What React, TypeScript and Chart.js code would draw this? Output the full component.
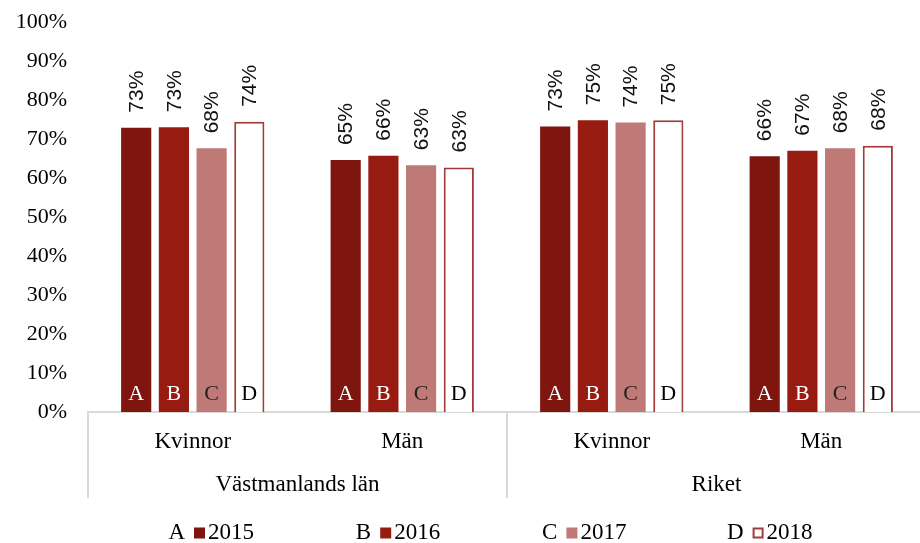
import React, { useEffect, useRef } from "react";
import { Chart, registerables } from "chart.js";

Chart.register(...registerables);

const categories = ["Kvinnor", "Män", "Kvinnor", "Män"];
const groupLabels = ["Västmanlands län", "Riket"];
const years = ["2015", "2016", "2017", "2018"];
const letters = ["A", "B", "C", "D"];
const values2015 = [72.9, 64.6, 73.2, 65.6];
const values2016 = [73.0, 65.7, 74.8, 67.0];
const values2017 = [67.6, 63.3, 74.2, 67.6];
const values2018 = [74.4, 62.7, 74.8, 68.3];
const yMin = 0;
const yMax = 100;
const yStep = 10;

const fills = ["#7e150f", "#981b12", "#bf7a78", "#ffffff"];
const borders = ["#7e150f", "#981b12", "#bf7a78", "#a33b3b"];
const letterColors = ["#ffffff", "#ffffff", "#222222", "#000000"];

const SERIF = "'Liberation Serif', 'Times New Roman', serif";
const SANS = "'Liberation Sans', Arial, sans-serif";
const GRAY = "#d9d9d9";

const overlayPlugin = {
  id: "overlay",
  afterDatasetsDraw(chart: any) {
    const ctx = chart.ctx;
    ctx.save();
    chart.data.datasets.forEach((ds: any, di: number) => {
      const meta = chart.getDatasetMeta(di);
      meta.data.forEach((bar: any, j: number) => {
        const v = ds.data[j];
        ctx.save();
        ctx.translate(bar.x + 1, bar.y - 15);
        ctx.rotate(-Math.PI / 2);
        ctx.font = `21px ${SANS}`;
        ctx.fillStyle = "#111";
        ctx.textAlign = "left";
        ctx.textBaseline = "middle";
        ctx.fillText(`${Math.round(v)}%`, 0, 0);
        ctx.restore();
        ctx.font = `22px ${SERIF}`;
        ctx.fillStyle = letterColors[di];
        ctx.textAlign = "center";
        ctx.textBaseline = "middle";
        ctx.fillText(letters[di], bar.x, 394);
      });
    });
    ctx.restore();
  },
  afterDraw(chart: any) {
    const ctx = chart.ctx;
    const xs = chart.scales.x;
    const top = chart.chartArea.bottom;
    ctx.save();
    ctx.strokeStyle = GRAY;
    ctx.lineWidth = 2;
    const n = categories.length;
    const bounds: number[] = [xs.left];
    for (let i = 2; i < n; i += 2) {
      bounds.push((xs.getPixelForValue(i - 1) + xs.getPixelForValue(i)) / 2);
    }
    bounds.push(xs.right);
    bounds.forEach((bx) => {
      ctx.beginPath();
      ctx.moveTo(bx, top);
      ctx.lineTo(bx, 498);
      ctx.stroke();
    });
    ctx.font = `23px ${SERIF}`;
    ctx.fillStyle = "#000";
    ctx.textAlign = "center";
    ctx.textBaseline = "middle";
    groupLabels.forEach((g, gi) => {
      const cx = (xs.getPixelForValue(gi * 2) + xs.getPixelForValue(gi * 2 + 1)) / 2;
      ctx.fillText(g, cx, 485);
    });
    const ly = 533;
    chart.data.datasets.forEach((ds: any, di: number) => {
      const bx = 194 + di * 186.2;
      ctx.font = `23px ${SERIF}`;
      ctx.fillStyle = "#000";
      ctx.textAlign = "right";
      ctx.textBaseline = "middle";
      ctx.fillText(letters[di], bx - 9, ly);
      const size = 11;
      if (di === 3) {
        ctx.fillStyle = "#fff";
        ctx.fillRect(bx, ly - size / 2, size, size);
        ctx.strokeStyle = borders[di];
        ctx.lineWidth = 2;
        ctx.strokeRect(bx + 1, ly - size / 2 + 1, size - 2, size - 2);
      } else {
        ctx.fillStyle = ds.backgroundColor;
        ctx.fillRect(bx, ly - size / 2, size, size);
      }
      ctx.font = `23px ${SERIF}`;
      ctx.fillStyle = "#000";
      ctx.textAlign = "left";
      ctx.fillText(ds.label, bx + 14, ly);
    });
    ctx.restore();
  },
};

export default function App() {
  const ref = useRef<HTMLCanvasElement | null>(null);
  useEffect(() => {
    document.body.style.margin = "0";
    const canvas = ref.current;
    if (!canvas) return;
    const series = [values2015, values2016, values2017, values2018];
    const chart = new Chart(canvas, {
      type: "bar",
      data: {
        labels: categories,
        datasets: series.map((vals, i) => ({
          label: years[i],
          data: vals,
          backgroundColor: fills[i],
          borderColor: borders[i],
          borderWidth: i === 3 ? 2 : 0,
          categoryPercentage: 0.72,
          barPercentage: 0.8,
        })),
      },
      options: {
        responsive: false,
        animation: false,
        devicePixelRatio: 1,
        layout: { padding: { left: 0, right: 14, top: 22, bottom: 45 } },
        plugins: {
          legend: { display: false },
          tooltip: { enabled: false },
        },
        scales: {
          x: {
            grid: { display: false, drawTicks: false },
            border: { display: true, color: GRAY, width: 2 },
            ticks: {
              padding: 16,
              color: "#000",
              font: { family: SERIF, size: 23 },
              maxRotation: 0,
              autoSkip: false,
            },
            afterFit: (s: any) => {
              s.height = 86;
              s.paddingLeft = 0;
              s.paddingRight = 0;
            },
          },
          y: {
            min: yMin,
            max: yMax,
            grid: { display: false, drawTicks: false },
            border: { display: false },
            ticks: {
              stepSize: yStep,
              padding: 21,
              color: "#000",
              font: { family: SERIF, size: 22 },
              callback: (v: any) => `${v}%`,
            },
            afterFit: (s: any) => {
              s.width = 88;
              s.paddingTop = 0;
              s.paddingBottom = 0;
            },
          },
        },
      },
      plugins: [overlayPlugin],
    });
    return () => chart.destroy();
  }, []);
  return (
    <div
      style={{
        position: "fixed",
        left: 0,
        top: 0,
        width: 920,
        height: 543,
        overflow: "hidden",
        background: "#fff",
      }}
    >
      <canvas ref={ref} width={940} height={543} style={{ display: "block" }} />
    </div>
  );
}
